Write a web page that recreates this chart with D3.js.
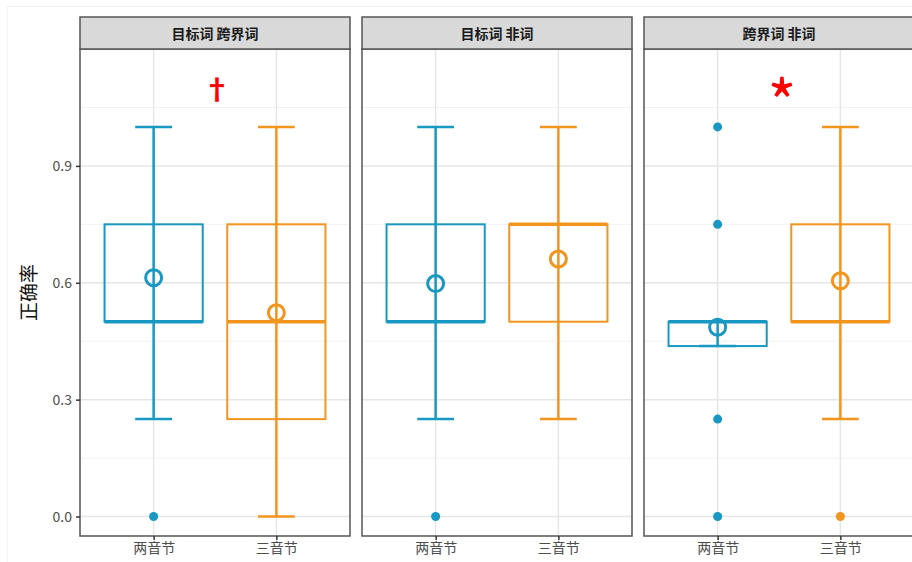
<!DOCTYPE html>
<html>
<head>
<meta charset="utf-8">
<script src="https://cdn.jsdelivr.net/npm/d3@7"></script>
<style>
  body { margin: 0; background: #fff; }
  text { font-family: "Noto Sans CJK SC", "Noto Sans", sans-serif; }
</style>
</head>
<body>
<script>
const panels = ['目标词 跨界词', '目标词 非词', '跨界词 非词']
const groups = ['两音节', '三音节']
const yTicks = [0, 0.3, 0.6, 0.9]
const yMinor = [0.15, 0.45, 0.75, 1.05]

// per panel, per group: [lower whisker, q1, median, q3, upper whisker]
const boxStats = [
  [[0.25, 0.5, 0.5, 0.75, 1.0], [0, 0.25, 0.5, 0.75, 1.0]],
  [[0.25, 0.5, 0.5, 0.75, 1.0], [0.25, 0.5, 0.75, 0.75, 1.0]],
  [[0.4375, 0.4375, 0.5, 0.5, 0.5], [0.25, 0.5, 0.5, 0.75, 1.0]]
]
const means = [[0.613, 0.523], [0.598, 0.661], [0.486, 0.605]]
const outliers = [[[0], []], [[0], []], [[0, 0.25, 0.75, 1.0], [0]]]
const marks = ['†', '', '*']
const markY = 1.1

const colors = ['#1898c2', '#f2951f']

const width = 912, height = 562
const panelW = 270, gap = 12, left = 80
const stripTop = 17, stripH = 32
const plotTop = stripTop + stripH, plotBottom = 536

const svg = d3.select('body').append('svg')
  .attr('width', width)
  .attr('height', height)

// faint frame of the original image
svg.append('line').attr('x1', 7).attr('x2', width).attr('y1', 6.5).attr('y2', 6.5)
  .attr('stroke', '#f0f0f0')
svg.append('line').attr('x1', 7.5).attr('x2', 7.5).attr('y1', 6).attr('y2', height)
  .attr('stroke', '#f4f4f4')

const y = d3.scaleLinear().domain([-0.05, 1.2]).range([plotBottom, plotTop])
const x = d3.scalePoint().domain(groups).range([0, panelW]).padding(0.6)
const step = x.step()
const boxW = step * 0.8, capW = step * 0.3

panels.forEach((name, p) => {
  const g = svg.append('g')
    .attr('transform', `translate(${left + p * (panelW + gap)},0)`)

  // grid
  g.selectAll('.minor').data(yMinor).enter().append('line')
    .attr('x1', 0).attr('x2', panelW)
    .attr('y1', d => y(d)).attr('y2', d => y(d))
    .attr('stroke', '#f2f2f2').attr('stroke-width', 1)
  g.selectAll('.major').data(yTicks).enter().append('line')
    .attr('x1', 0).attr('x2', panelW)
    .attr('y1', d => y(d)).attr('y2', d => y(d))
    .attr('stroke', '#e6e6e6').attr('stroke-width', 1.5)
  g.selectAll('.vgrid').data(groups).enter().append('line')
    .attr('x1', d => x(d)).attr('x2', d => x(d))
    .attr('y1', plotTop).attr('y2', plotBottom)
    .attr('stroke', '#e6e6e6').attr('stroke-width', 1.5)

  groups.forEach((grp, i) => {
    const s = boxStats[p][i]
    const cx = x(grp)
    const col = colors[i]
    const gg = g.append('g')

    gg.append('rect')
      .attr('x', cx - boxW / 2).attr('width', boxW)
      .attr('y', y(s[3])).attr('height', y(s[1]) - y(s[3]))
      .attr('fill', 'none').attr('stroke', col).attr('stroke-width', 2)

    gg.append('line')
      .attr('x1', cx - boxW / 2).attr('x2', cx + boxW / 2)
      .attr('y1', y(s[2])).attr('y2', y(s[2]))
      .attr('stroke', col).attr('stroke-width', 3.5)

    // error bar
    gg.append('line')
      .attr('x1', cx).attr('x2', cx)
      .attr('y1', y(s[0])).attr('y2', y(s[4]))
      .attr('stroke', col).attr('stroke-width', 2.5)
    gg.selectAll('.cap').data([s[0], s[4]]).enter().append('line')
      .attr('x1', cx - capW / 2).attr('x2', cx + capW / 2)
      .attr('y1', d => y(d)).attr('y2', d => y(d))
      .attr('stroke', col).attr('stroke-width', 2.5)

    gg.selectAll('.out').data(outliers[p][i]).enter().append('circle')
      .attr('cx', cx).attr('cy', d => y(d)).attr('r', 4.5)
      .attr('fill', col)

    gg.append('circle')
      .attr('cx', cx).attr('cy', y(means[p][i])).attr('r', 8)
      .attr('fill', 'none').attr('stroke', col).attr('stroke-width', 3)
  })

  if (marks[p]) {
    const star = marks[p] === '*'
    g.append('text')
      .attr('x', panelW / 2 + (star ? 3 : 2)).attr('y', y(markY))
      .attr('text-anchor', 'middle')
      .attr('dominant-baseline', 'central')
      .attr('fill', '#ff0000')
      .attr('font-family', star ? 'Liberation Sans, sans-serif' : 'DejaVu Sans, sans-serif')
      .attr('font-weight', star ? 'normal' : 'bold')
      .attr('font-size', star ? 62 : 28)
      .attr('dy', star ? 11 : 0)
      .text(marks[p])
  }

  // panel border
  g.append('rect')
    .attr('x', 0).attr('y', plotTop)
    .attr('width', panelW).attr('height', plotBottom - plotTop)
    .attr('fill', 'none').attr('stroke', '#555').attr('stroke-width', 1.5)

  // strip
  g.append('rect')
    .attr('x', 0).attr('y', stripTop)
    .attr('width', panelW).attr('height', stripH)
    .attr('fill', '#d9d9d9').attr('stroke', '#555').attr('stroke-width', 1.5)
  g.append('text')
    .attr('x', panelW / 2).attr('y', stripTop + stripH / 2)
    .attr('text-anchor', 'middle').attr('dominant-baseline', 'central')
    .attr('font-size', 14).attr('font-weight', 'bold').attr('fill', '#1a1a1a')
    .text(name)

  // x axis
  const xa = g.append('g')
    .attr('transform', `translate(0,${plotBottom})`)
    .call(d3.axisBottom(x).tickSize(4).tickPadding(3))
  xa.select('.domain').remove()
  xa.selectAll('line').attr('stroke', '#333').attr('stroke-width', 1.5)
  xa.selectAll('text').attr('font-size', 14).attr('fill', '#4d4d4d')
    .attr('font-family', '"Noto Sans CJK SC", sans-serif')
})

// y axis
const ya = svg.append('g')
  .attr('transform', `translate(${left},0)`)
  .call(d3.axisLeft(y).tickValues(yTicks).tickFormat(d3.format('.1f')).tickSize(4).tickPadding(4))
ya.select('.domain').remove()
ya.selectAll('line').attr('stroke', '#333').attr('stroke-width', 1.5)
ya.selectAll('text').attr('font-size', 14).attr('fill', '#4d4d4d')
  .attr('font-family', 'Liberation Sans, Arial, sans-serif')

svg.append('text')
  .attr('transform', `translate(27,${(plotTop + plotBottom) / 2}) rotate(-90)`)
  .attr('text-anchor', 'middle').attr('dominant-baseline', 'central')
  .attr('font-size', 19).attr('fill', '#111')
  .text('正确率')
</script>
</body>
</html>
